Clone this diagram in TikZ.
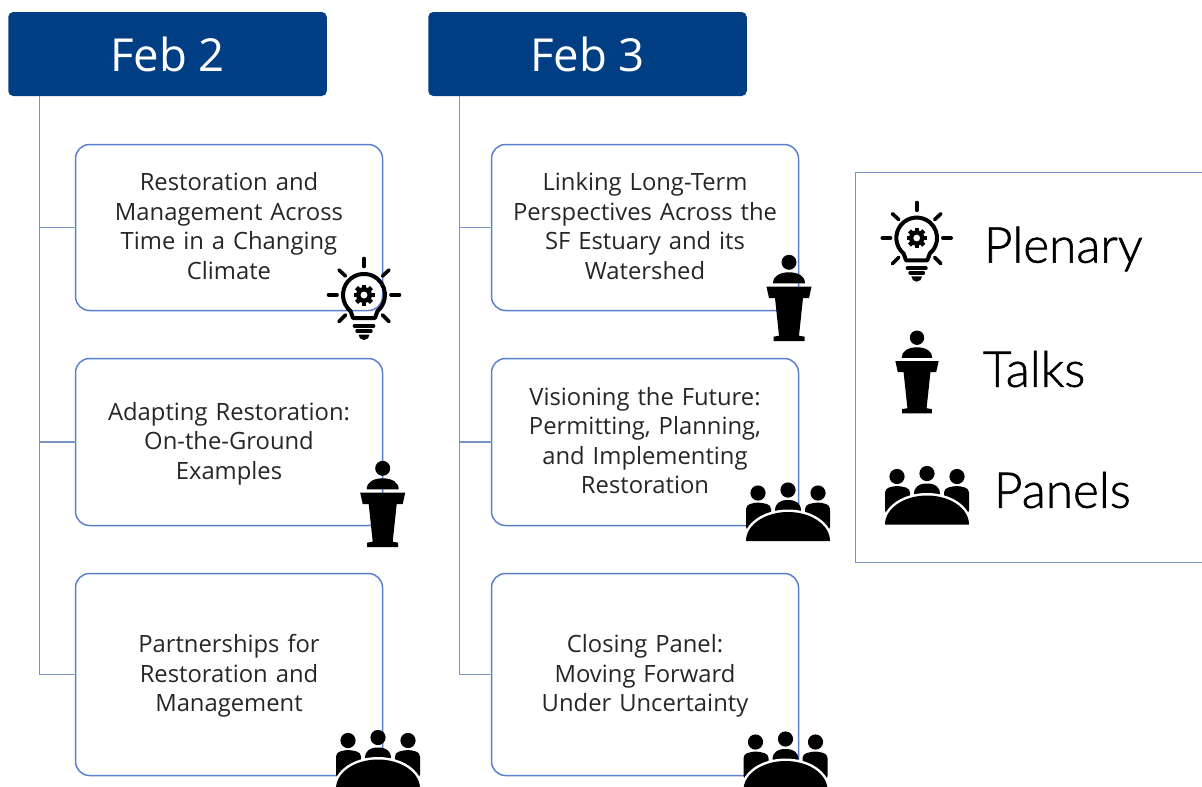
\documentclass[tikz,border=0pt]{standalone}
\usepackage{fontspec}
\setmainfont{Open Sans}
\newfontfamily\legendfont[FakeBold=1.2]{Lato Light}
\usetikzlibrary{positioning}

\definecolor{headblue}{HTML}{023E84}
\definecolor{boxblue}{HTML}{5B80CF}
\definecolor{linkblue}{HTML}{7C93C6}

\tikzset{
    plenaryicon/.pic={
        \draw [line width=4pt, line join=round] (-11,-23) -- (-13.5,-16) arc[start angle=230, delta angle=-280, radius=21] -- (11,-23) -- cycle;
        \foreach \a in {0,45,...,315} {
            \fill [rotate=\a] (-2.2,6) rectangle (2.2,10.5);
        }
        \fill [even odd rule] (0,0) circle (8) (0,0) circle (3.6);
        \draw [line width=3.6pt, line cap=round] (0,28.5) -- (0,36.5);
        \draw [line width=3.6pt, line cap=round] (-27,0) -- (-35.5,0);
        \draw [line width=3.6pt, line cap=round] (27,0) -- (35.5,0);
        \draw [line width=3.6pt, line cap=round] (-18.5,19) -- (-25,25);
        \draw [line width=3.6pt, line cap=round] (18.5,19) -- (25,25);
        \draw [line width=3.6pt, line cap=round] (-18.5,-20) -- (-25,-26.5);
        \draw [line width=3.6pt, line cap=round] (18.5,-20) -- (25,-26.5);
        \draw [line width=3.6pt, line cap=round] (-9.5,-31) -- (9.5,-31);
        \draw [line width=3.2pt, line cap=round] (-7,-36) -- (7,-36);
        \fill (-5.5,-39.5) -- (5.5,-39.5) arc[start angle=0, end angle=-180, radius=5.5];
    },
    talksicon/.pic={
        \fill (0,35.7) circle (7.5);
        \fill (-16,14.7) .. controls (-16,22) and (-9,25.7) .. (0,25.7) .. controls (9,25.7) and (16,22) .. (16,14.7) -- cycle;
        \fill (-22.5,11.3) -- (22.5,11.3) -- (20,0) -- (14,0) -- (10,-37.7) -- (15.5,-38.7) -- (15.5,-43) -- (-15.5,-43) -- (-15.5,-38.7) -- (-10,-37.7) -- (-14,0) -- (-20,0) -- cycle;
    },
    panelsicon/.pic={
        \fill (0,51) circle (7.6);
        \fill (-30,48) circle (7.6);
        \fill (30,48) circle (7.6);
        \fill (-13,30) .. controls (-13,38) and (-8,41) .. (0,41) .. controls (8,41) and (13,38) .. (13,30) -- cycle;
        \fill [rounded corners=4pt] (-42,10) -- (-42,36) -- (-30,39) -- (-17,36) -- (-17,20) -- cycle;
        \fill [rounded corners=4pt] (42,10) -- (42,36) -- (30,39) -- (17,36) -- (17,20) -- cycle;
        \draw [white, line width=5pt] (-42,0) arc[x radius=42, y radius=29, start angle=180, end angle=0];
        \fill (-42,0) arc[x radius=42, y radius=29, start angle=180, end angle=0] -- cycle;
    }
}

\begin{document}
\begin{tikzpicture}[
    x=1pt, y=1pt,
    outer sep=0pt,
    node distance=48pt and 109pt,
    header/.style={
        rectangle,
        fill=headblue,
        text=white,
        rounded corners=5pt,
        minimum width=318.5pt,
        minimum height=84pt,
        inner sep=0pt,
        font=\fontsize{45.5}{50}\selectfont
    },
    block/.style={
        rectangle,
        draw=boxblue,
        line width=1.5pt,
        rounded corners=14pt,
        text=black!85,
        text width=290pt,
        align=center,
        minimum width=307pt,
        inner sep=0pt,
        font=\fontsize{23.8}{29.5}\selectfont,
        execute at begin node={\rule{0pt}{21pt}},
        execute at end node={\vphantom{g}}
    },
    link/.style={
        draw=linkblue, line width=1.5pt
    },
    legendbox/.style={
        rectangle,
        draw=linkblue,
        line width=1.5pt,
        minimum width=360pt,
        minimum height=390pt,
        anchor=north west
    },
    legendtext/.style={
        anchor=west,
        inner sep=0pt,
        font=\legendfont\fontsize{49.5}{52}\selectfont
    }
]
    \useasboundingbox (0,0) rectangle (1202,-787);
    \clip (0,0) rectangle (1202,-787);

    % Headers
    \node [header] (febtwo) at (167.5,-54) {Feb 2};
    \node [header, right=101.5pt of febtwo] (febthree) {Feb 3};

    % Sessions
    \node [block, minimum height=166pt, anchor=north west] (restore) at (75.5,-144.5) {Restoration and\\Management Across\\Time in a Changing\\Climate};
    \node [block, minimum height=167pt, below=of restore] (adapt) {Adapting Restoration:\\On-the-Ground\\Examples};
    \node [block, minimum height=202pt, below=of adapt] (partner) {Partnerships for\\Restoration and\\Management};

    \node [block, minimum height=166pt, right=of restore] (longterm) {Linking Long-Term\\Perspectives Across the\\SF Estuary and its\\Watershed};
    \node [block, minimum height=167pt, below=of longterm] (vision) {Visioning the Future:\\Permitting, Planning,\\and Implementing\\Restoration};
    \node [block, minimum height=202pt, below=of vision] (closing) {Closing Panel:\\Moving Forward\\Under Uncertainty};

    % Edges
    \path [link] ([xshift=31pt]febtwo.south west) |- (restore.west);
    \path [link] ([xshift=31pt]febtwo.south west) |- (adapt.west);
    \path [link] ([xshift=31pt]febtwo.south west) |- (partner.west);

    \path [link] ([xshift=31pt]febthree.south west) |- (longterm.west);
    \path [link] ([xshift=31pt]febthree.south west) |- (vision.west);
    \path [link] ([xshift=31pt]febthree.south west) |- (closing.west);

    % Legend
    \node [legendbox] (legend) at (855.5,-172.5) {};
    \node [legendtext] (plenary) at (984,-249) {Plenary};
    \node [legendtext] (talks) at (983,-369) {Talks};
    \node [legendtext] (panels) at (994,-490) {Panels};

    % Icons
    \pic at (364,-295) {plenaryicon};
    \pic at (382.7,-504) {talksicon};
    \pic at (378,-788.5) {panelsicon};
    \pic at (789,-298) {talksicon};
    \pic at (788,-541) {panelsicon};
    \pic at (785.5,-790) {panelsicon};
    \pic [scale=.97] at (916.7,-238) {plenaryicon};
    \pic [scale=.96] at (917,-372) {talksicon};
    \pic at (927,-524.5) {panelsicon};

\end{tikzpicture}
\end{document}
